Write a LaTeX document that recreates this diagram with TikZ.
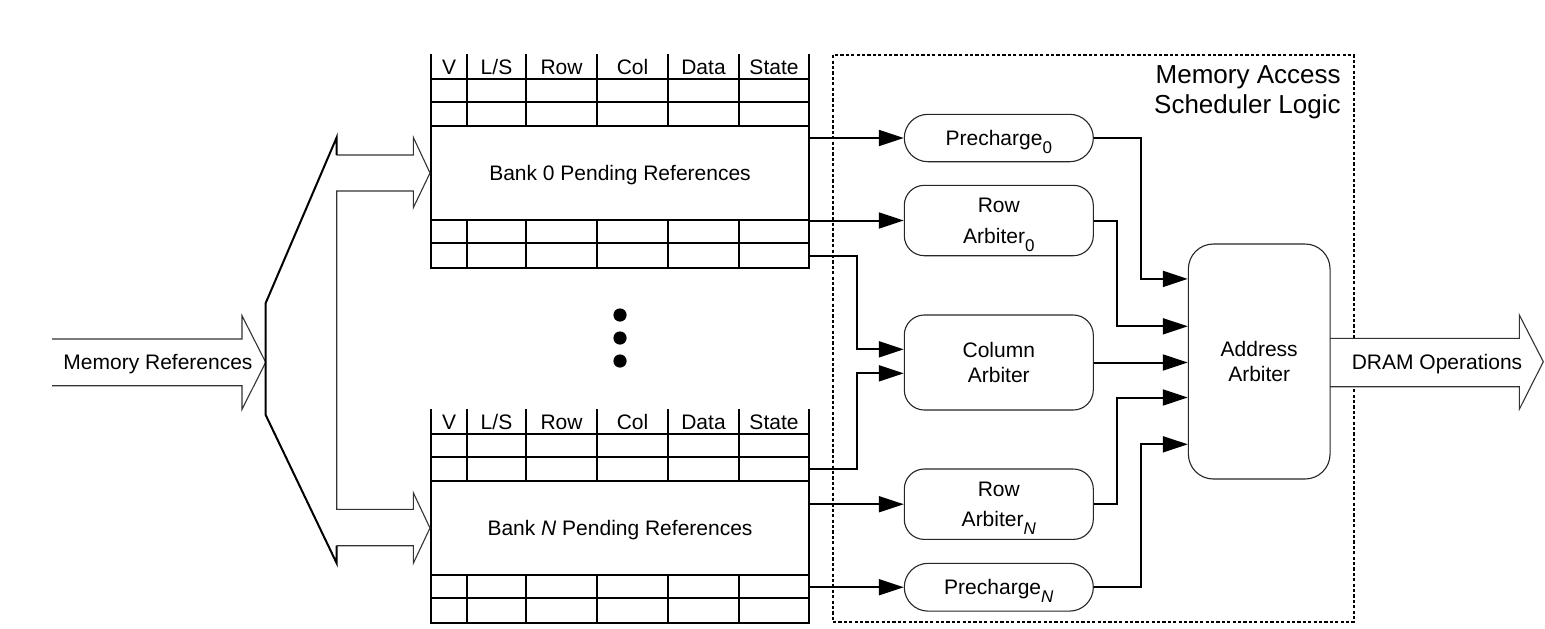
\documentclass[tikz,border=0pt]{standalone}
\usepackage{fontspec}
\setmainfont{Liberation Sans}
\usetikzlibrary{arrows.meta}
\newcommand{\subsc}[1]{\smash{\raisebox{-4pt}{\fontsize{8.5}{8.5}\selectfont #1}}}
\newcommand{\banktable}[3]{%
  \begin{scope}[shift={(0,#1)}]
    \node[bankbox] (bank#2) at (620,173) {Bank #3 Pending References};
    \draw[tabline] (431,54) -- (431,267.7) -- (809,267.7) -- (809,54);
    \foreach \yy in {79,102.3,126,220,243.3} \draw[tabline] (431,\yy) -- (809,\yy);
    \foreach \xx in {467,526,597,668,739} {\draw[tabline] (\xx,54) -- (\xx,126); \draw[tabline] (\xx,220) -- (\xx,267.7);}
    \node[hdr] (hv#2) at (449,66.5) {V};
    \node[hdr] (hls#2) at (496.5,66.5) {L/S};
    \node[hdr] (hrow#2) at (561.5,66.5) {Row};
    \node[hdr] (hcol#2) at (632.5,66.5) {Col};
    \node[hdr] (hdata#2) at (703.5,66.5) {Data};
    \node[hdr] (hstate#2) at (774,66.5) {State};
  \end{scope}}
\begin{document}
\begin{tikzpicture}[x=0.5pt,y=-0.5pt,
  every node/.style={font=\fontsize{10.5}{12.6}\selectfont, inner sep=0pt},
  hdr/.style={text height=7.6pt, text depth=0pt},
  tabline/.style={line width=1pt},
  bankbox/.style={draw, line width=1pt, minimum width=189pt, minimum height=47pt, text depth=0pt},
  unit/.style={draw=black!85, line width=0.55pt, rounded corners=10pt, minimum width=94.5pt, align=center, fill=white},
  conn/.style={line width=1pt, -{Triangle[length=12.5pt,width=8pt]}},
  hollow/.style={draw=black!80, line width=0.55pt},
  ]
\useasboundingbox (0,0) rectangle (1545,628);

% scheduler region
\node[draw, dash pattern=on 1.6pt off 1.1pt, line width=0.6pt, minimum width=260.5pt, minimum height=283.5pt] (sched) at (1093.5,338.5) {};
\node[anchor=base east, font=\fontsize{13}{15}\selectfont] (title1) at (1341,83) {Memory Access};
\node[anchor=base east, font=\fontsize{13}{15}\selectfont] (title2) at (1341,113) {Scheduler Logic};

% output arrow
\filldraw[hollow, fill=white] (1330,338.3) -- (1519.3,338.3) -- (1519.3,315) -- (1543.3,361.7) -- (1519.3,409.3) -- (1519.3,386.7) -- (1330,386.7);
\node[text depth=0pt] (dram) at (1437,362) {DRAM Operations};

% tables
\banktable{0}{0}{0}
\banktable{355}{N}{\textit{N}}

% dots
\fill (620,315) circle[radius=3.3pt];
\fill (620,338) circle[radius=3.3pt];
\fill (620,361) circle[radius=3.3pt];

% input arrow
\draw[hollow] (52,339) -- (242,339) -- (242,315.7) -- (265.7,362.3) -- (242,409.3) -- (242,385.7) -- (52,385.7);
\node[text depth=0pt] (memref) at (158,362) {Memory References};

% distribution
\draw[hollow] (336.7,155) -- (413.3,155) -- (413.3,137.3) -- (bank0.west) -- (413.3,207.7) -- (413.3,191) -- (336.7,191) -- (336.7,509.3) -- (413.3,509.3) -- (413.3,492.7) -- (bankN.west) -- (413.3,563.3) -- (413.3,545.7) -- (336.7,545.7);
\draw[line width=1pt] (336.7,155) -- (336.7,137.3) -- (265.7,303) -- (265.7,415) -- (336.7,563.3) -- (336.7,545.7);

% arbiters
\node[unit, minimum height=23.7pt, rounded corners=11.8pt, text depth=0pt] (pre0) at (998.8,138) {Precharge\subsc{0}};
\node[unit, minimum height=35.2pt] (row0) at (998.8,220.5) {Row\\[3pt]Arbiter\subsc{0}};
\node[unit, minimum height=47.5pt] (col) at (998.8,362.5) {Column\\Arbiter};
\node[unit, minimum height=35.2pt] (rowN) at (998.8,504.2) {Row\\[2.5pt]Arbiter\subsc{\textit{N}}};
\node[unit, minimum height=23.9pt, rounded corners=11.9pt, text depth=0pt] (preN) at (998.8,587.2) {Precharge\subsc{\textit{N}}};
\node[unit, minimum width=70.85pt, minimum height=117.5pt, rounded corners=12.5pt] (addr) at (1259.2,361.5) {Address\\Arbiter};

% connectors from tables
\coordinate (c0) at (809,255.7);
\coordinate (cN) at (809,469);
\draw[conn] (bank0.east |- pre0.west) -- (pre0.west);
\draw[conn] (bank0.east |- row0.west) -- (row0.west);
\draw[conn] (c0) -| (857.3,300) |- ([yshift=6.6pt]col.west);
\draw[conn] (cN) -| (857.3,420) |- ([yshift=-5.4pt]col.west);
\draw[conn] (bankN.east |- rowN.west) -- (rowN.west);
\draw[conn] (bankN.east |- preN.west) -- (preN.west);

% connectors to address arbiter
\draw[conn] (pre0.east) -| (1140.7,200) |- ([yshift=41.3pt]addr.west);
\draw[conn] (row0.east) -| (1117.3,280) |- ([yshift=17.6pt]addr.west);
\draw[conn] (col.east) -- (addr.west |- col.east);
\draw[conn] (rowN.east) -| (1117.3,450) |- ([yshift=-18pt]addr.west);
\draw[conn] (preN.east) -| (1140.7,500) |- ([yshift=-41.4pt]addr.west);
\end{tikzpicture}
\end{document}
